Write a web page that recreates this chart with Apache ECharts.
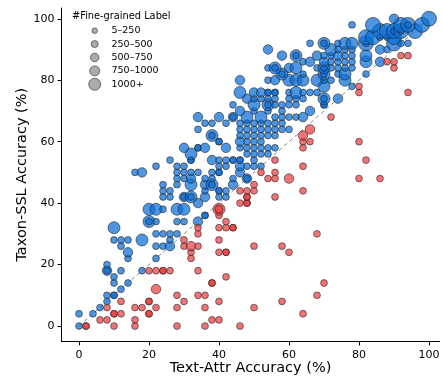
<!DOCTYPE html>
<html><head><meta charset="utf-8">
<script src="https://cdn.jsdelivr.net/npm/echarts@6/dist/echarts.min.js"></script>
<style>html,body{margin:0;padding:0;background:#fff;overflow:hidden}#c{width:443px;height:378px}</style>
</head><body><div id="c"></div>
<script>
// [Text-Attr accuracy, Taxon-SSL accuracy, size bin (1..5)]
const textAttrBetter = [
[2,0,1],[2,0,1],[10,0,1],[16,0,1],[28,0,1],[36,0,1],[46,0,1],
[6,2,1],[8,2,1],[16,2,1],[38,2,1],[40,2,1],
[10,4,1],[10,4,1],[12,4,1],[20,4,1],[20,4,1],[64,4,1],
[8,6,1],[16,6,1],[18,6,1],[22,6,1],[28,6,1],[36,6,1],[50,6,1],
[12,8,1],[20,8,1],[20,8,1],[30,8,1],[40,8,1],[58,8,1],
[28,10,1],[34,10,1],[36,10,1],[68,10,1],
[22,12,3],
[38,14,1],[38,14,1],[70,14,1],
[42,16,1],
[20,18,1],[22,18,1],[24,18,1],[24,18,1],[26,18,1],[34,18,1],
[32,22,1],
[32,24,1],[40,24,1],[42,24,1],[42,24,1],[60,24,1],
[30,26,1],[32,26,3],[34,26,1],[50,26,1],[58,26,1],
[30,28,1],[40,28,1],
[34,30,1],[68,30,1],
[34,32,1],[40,32,1],[42,32,1],[44,32,1],[44,32,1],
[42,34,1],
[40,36,1],
[40,38,4],[40,38,2],
[46,40,1],[48,40,1],[48,40,1],
[48,42,1],[48,42,1],[56,42,1],
[46,44,1],[48,44,1],[50,44,1],[64,44,1],
[50,46,1],
[54,48,1],[56,48,1],[60,48,3],[80,48,1],[86,48,1],
[52,50,1],[56,50,1],
[64,52,1],
[56,54,1],[82,54,1],
[64,58,1],
[64,60,1],[66,60,1],[80,60,1],
[64,62,3],
[66,64,3],
[72,68,1],
[80,76,1],[94,76,1],
[80,78,1],
[90,84,1],
[88,86,1],[90,86,1],
[92,88,1],[94,88,1]
];
const taxonSslBetter = [
[0,0,1],[0,4,1],[4,4,1],[6,6,1],[8,8,1],[8,10,1],[10,10,1],[10,10,1],
[12,12,1],[10,14,1],[10,16,1],[14,14,1],[8,18,3],[8,18,1],[8,20,1],[12,18,1],[18,18,1],
[14,22,1],[22,22,1],[14,24,3],[12,26,1],[22,26,1],[24,26,1],[26,26,3],
[10,28,1],[12,28,1],[14,28,1],[18,28,4],[26,28,1],
[22,30,1],[24,30,1],[26,30,1],[28,30,1],
[10,32,4],
[20,34,4],[20,34,1],[22,34,1],[28,34,1],[30,34,1],[34,34,3],
[36,36,1],[36,36,1],
[20,38,4],[22,38,4],[24,38,1],[28,38,4],[30,38,4],
[34,40,3],
[24,42,1],[26,42,1],[30,42,3],[30,42,1],[32,42,4],[32,42,1],[36,42,3],[40,42,1],[42,42,1],
[24,44,1],[26,44,1],[36,44,1],[40,44,1],[40,44,1],[42,44,1],
[24,46,1],[28,46,1],[32,46,4],[36,46,3],[38,46,4],[38,46,1],[44,46,3],
[28,48,1],[30,48,1],[32,48,3],[36,48,1],[38,48,1],[44,48,1],[48,48,3],[48,48,1],
[16,50,1],[18,50,3],[28,50,1],[30,50,1],[32,50,1],[34,50,1],[38,50,1],[40,50,1],[40,50,1],[46,50,3],
[22,52,1],[28,52,1],[30,52,1],[40,52,1],[42,52,1],[46,52,3],[48,52,1],[50,52,1],[52,52,1],
[26,54,1],[32,54,1],[32,54,1],[38,54,3],[40,54,1],[42,54,1],[44,54,1],[44,54,1],[46,54,1],[46,54,1],[50,54,1],
[32,56,4],[48,56,1],[50,56,1],[52,56,1],[54,56,1],
[30,58,3],[34,58,1],[34,58,1],[36,58,3],[42,58,3],[46,58,1],[48,58,1],[50,58,1],[52,58,1],[54,58,1],[56,58,1],
[40,60,1],[40,60,1],[46,60,3],[48,60,1],[50,60,1],[52,60,1],
[38,62,4],[38,62,1],[46,62,1],[48,62,1],[50,62,1],[52,62,1],[54,62,1],[56,62,1],
[34,64,1],[46,64,1],[48,64,1],[50,64,1],[52,64,1],[54,64,1],[56,64,1],[58,64,1],[60,64,1],
[36,66,1],[38,66,1],[42,66,1],[46,66,1],[48,66,1],[50,66,1],[52,66,1],[54,66,1],[56,66,1],[58,66,1],
[34,68,3],[40,68,3],[44,68,3],[44,68,1],[48,68,4],[52,68,4],[56,68,1],[58,68,1],[60,68,1],[62,68,1],[64,68,3],
[46,70,3],[50,70,1],[54,70,1],[58,70,1],[66,70,3],
[44,72,1],[50,72,4],[54,72,4],[54,72,1],[56,72,1],[58,72,1],[60,72,1],[62,72,1],[70,72,1],[70,72,1],
[48,74,3],[50,74,1],[52,74,1],[54,74,1],[56,74,1],[60,74,1],[62,74,1],[64,74,1],[70,74,4],[70,74,1],[74,74,3],
[46,76,4],[50,76,3],[52,76,3],[54,76,1],[54,76,1],[56,76,1],[56,76,1],[60,76,1],[62,76,4],[64,76,1],[66,76,1],[68,76,1],
[70,78,4],[78,78,1],
[46,80,3],[54,80,1],[56,80,3],[60,80,4],[62,80,4],[64,80,4],[68,80,4],[70,80,1],[72,80,1],[76,80,4],
[58,82,4],[58,82,1],[64,82,1],[70,82,4],[70,82,1],[74,82,1],[76,82,4],[82,82,1],
[54,84,1],[56,84,4],[56,84,1],[60,84,3],[62,84,4],[68,84,1],[70,84,4],[70,84,1],[72,84,1],[74,84,1],[76,84,1],[78,84,1],
[64,86,1],[66,86,3],[70,86,3],[72,86,1],[74,86,1],[76,86,1],[78,86,1],[82,86,4],[86,86,3],
[58,88,3],[62,88,4],[62,88,1],[68,88,3],[70,88,1],[72,88,1],[74,88,3],[76,88,1],[78,88,1],[82,88,4],
[54,90,3],[72,90,4],[74,90,1],[76,90,1],[78,90,1],[86,90,3],[88,90,1],
[66,92,1],[70,92,4],[70,92,1],[74,92,1],[76,92,4],[78,92,4],[82,92,5],[82,92,1],[90,92,5],[92,92,1],[94,92,1],
[82,94,5],[84,94,5],[86,94,1],[88,94,1],[90,94,5],
[86,96,5],[88,96,5],[90,96,5],[90,96,1],[92,96,5],[92,96,1],[96,96,5],
[78,98,1],[84,98,5],[92,98,5],[94,98,5],[94,98,1],[98,98,5],
[90,100,3],[100,100,5]
];
const sizeBins = ['5\u2013250','250\u2013500','500\u2013750','750\u20131000','1000+'];
const xTicks = [0,20,40,60,80,100];
const yTicks = [0,20,40,60,80,100];
const diagonal = [[0,0],[100,100]];

const FONT = 'DejaVu Sans';
const plotSize = [0, 6.8, 8, 9.5, 12, 15];
const legendSize = [5.5, 7, 8.5, 10, 12];

const chart = echarts.init(document.getElementById('c'), null, {renderer:'canvas'});

const legendGraphics = [{
  type:'text', x:72, y:16,
  style:{text:'#Fine-grained Label', font:'9.8px "DejaVu Sans"', fill:'#000', verticalAlign:'middle'}
}];
sizeBins.forEach((lab,i)=>{
  const cy = 30.7 + i*13.4;
  legendGraphics.push({
    type:'circle', shape:{cx:94.7, cy:cy, r:legendSize[i]/2},
    style:{fill:'rgba(150,150,150,0.8)', stroke:'rgba(50,50,50,0.8)', lineWidth:0.8}
  });
  legendGraphics.push({
    type:'text', x:111.5, y:cy,
    style:{text:lab, font:'9.5px "DejaVu Sans"', fill:'#000', verticalAlign:'middle'}
  });
});

const axisCommon = {
  type:'value', splitLine:{show:false},
  axisLine:{show:true, onZero:false, lineStyle:{color:'#000', width:1}},
  axisTick:{show:true, length:4, lineStyle:{color:'#000', width:1}},
  axisLabel:{color:'#000', fontSize:11, fontFamily:FONT},
  nameLocation:'middle', nameMoveOverlap:false,
  nameTextStyle:{color:'#000', fontSize:14.5, fontFamily:FONT}
};

chart.setOption({
  animation:false,
  backgroundColor:'#fff',
  grid:{left:61.5, right:3.5, top:8, bottom:36.6, containLabel:false, outerBoundsMode:'none'},
  xAxis: Object.assign({}, axisCommon, {
    min:-5, max:103, name:'Text-Attr Accuracy (%)', nameGap:19,
    axisLabel:Object.assign({}, axisCommon.axisLabel, {customValues:xTicks, margin:8}),
    axisTick:Object.assign({}, axisCommon.axisTick, {customValues:xTicks})
  }),
  yAxis: Object.assign({}, axisCommon, {
    min:-5, max:103.5, name:'Taxon-SSL Accuracy (%)', nameGap:32,
    axisLabel:Object.assign({}, axisCommon.axisLabel, {customValues:yTicks, margin:7}),
    axisTick:Object.assign({}, axisCommon.axisTick, {customValues:yTicks})
  }),
  graphic: legendGraphics,
  series:[
    {type:'line', data:diagonal, symbol:'none', silent:true, z:1,
     lineStyle:{color:'#8a8a8a', width:1, type:[4,3]}},
    {type:'scatter', data:taxonSslBetter, z:2,
     symbolSize:v=>plotSize[v[2]],
     itemStyle:{color:'rgba(10,110,215,0.72)', borderColor:'rgba(35,35,35,0.65)', borderWidth:0.9, opacity:1}},
    {type:'scatter', data:textAttrBetter, z:3,
     symbolSize:v=>plotSize[v[2]],
     itemStyle:{color:'rgba(235,55,55,0.7)', borderColor:'rgba(35,35,35,0.65)', borderWidth:0.9, opacity:1}}
  ]
});
</script></body></html>
